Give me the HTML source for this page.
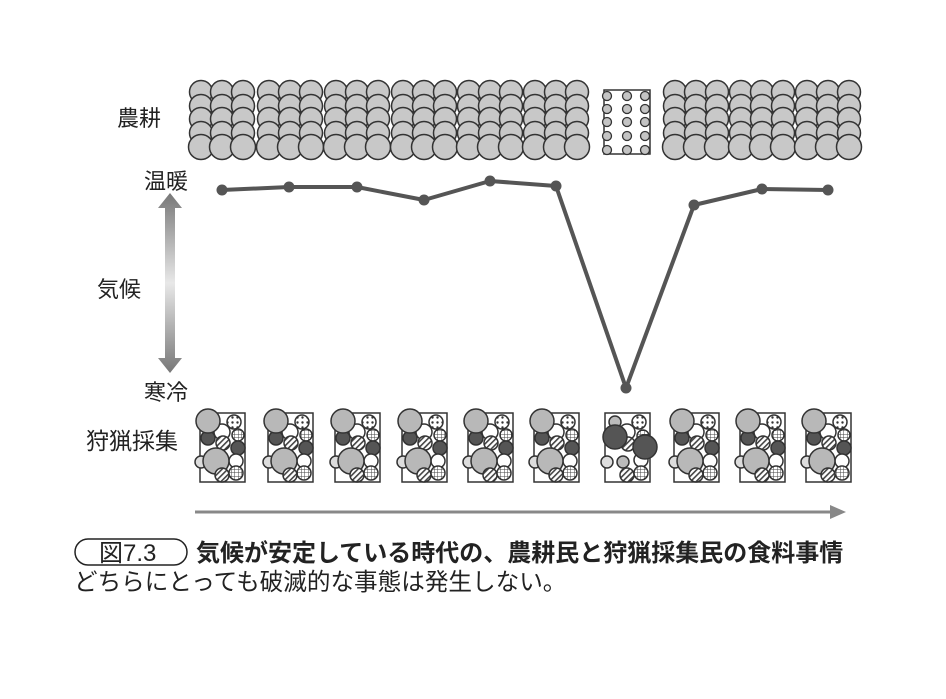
<!DOCTYPE html>
<html><head><meta charset="utf-8"><style>
html,body{margin:0;padding:0;background:#fff;}
svg{display:block}
text{font-family:"Liberation Sans","Noto Sans CJK JP",sans-serif;fill:#222}
</style></head><body>
<svg id="s" width="946" height="699" viewBox="0 0 946 699" xmlns="http://www.w3.org/2000/svg">
<defs>
<linearGradient id="vg" x1="0" y1="0" x2="0" y2="1">
<stop offset="0" stop-color="#777"/><stop offset="0.5" stop-color="#e8e8e8"/><stop offset="1" stop-color="#777"/>
</linearGradient>
<pattern id="hatch" width="4" height="4" patternUnits="userSpaceOnUse" patternTransform="rotate(45)">
<rect width="4" height="4" fill="#fff"/><rect width="1.6" height="4" fill="#444"/>
</pattern>
<pattern id="grid" width="3.5" height="3.5" patternUnits="userSpaceOnUse">
<rect width="3.5" height="3.5" fill="#fff"/><path d="M0 0H3.5M0 0V3.5" stroke="#444" stroke-width="1"/>
</pattern>
<pattern id="dots" width="5" height="5" patternUnits="userSpaceOnUse">
<rect width="5" height="5" fill="#fff"/><circle cx="2.5" cy="2.5" r="1.2" fill="#333"/>
</pattern>
</defs>
<g id="farm"></g>
<g id="hunt"></g>
<polyline points="222,190 289,187 357,187 424,200 490,181 556,186 626,388 694,205 762,189 828,190" fill="none" stroke="#555" stroke-width="4" stroke-linejoin="round"/>
<g fill="#555">
<circle cx="222" cy="190" r="5.5"/><circle cx="289" cy="187" r="5.5"/><circle cx="357" cy="187" r="5.5"/><circle cx="424" cy="200" r="5.5"/><circle cx="490" cy="181" r="5.5"/><circle cx="556" cy="186" r="5.5"/><circle cx="626" cy="388" r="5.5"/><circle cx="694" cy="205" r="5.5"/><circle cx="762" cy="189" r="5.5"/><circle cx="828" cy="190" r="5.5"/>
</g>
<path d="M170 193 L182 208 L175 208 L175 358 L182 358 L170 373 L158 358 L165 358 L165 208 L158 208 Z" fill="url(#vg)"/>
<text x="117" y="126" font-size="22">農耕</text>
<text x="144" y="189" font-size="22">温暖</text>
<text x="97" y="297" font-size="22">気候</text>
<text x="144" y="400" font-size="22">寒冷</text>
<text x="86" y="449" font-size="23">狩猟採集</text>
<line x1="195" y1="512" x2="832" y2="512" stroke="#888" stroke-width="3"/>
<path d="M830 505 L846 512 L830 519 Z" fill="#888"/>
<rect x="75" y="539" width="112" height="26" rx="13" fill="none" stroke="#222" stroke-width="1.5"/>
<text x="99" y="561" font-size="24">図7.3</text>
<text x="196" y="561" font-size="24" font-weight="bold">気候が安定している時代の、農耕民と狩猟採集民の食料事情</text>
<text x="74" y="590" font-size="23.6">どちらにとっても破滅的な事態は発生しない。</text>
</svg>
<script>
var NS="http://www.w3.org/2000/svg";
function c(g,x,y,r,f,sw){var e=document.createElementNS(NS,"circle");e.setAttribute("cx",x);e.setAttribute("cy",y);e.setAttribute("r",r);e.setAttribute("fill",f);e.setAttribute("stroke","#333");e.setAttribute("stroke-width",sw||1.5);g.appendChild(e);}
function r(g,x,y,w,h){var e=document.createElementNS(NS,"rect");e.setAttribute("x",x);e.setAttribute("y",y);e.setAttribute("width",w);e.setAttribute("height",h);e.setAttribute("fill","#fff");e.setAttribute("stroke","#333");e.setAttribute("stroke-width",1.5);g.appendChild(e);}
var F=document.getElementById("farm"),H=document.getElementById("hunt");
var cx=[222,290,357,424,490,556,627,696,762,828];
cx.forEach(function(x,i){
 if(i==6){
  r(F,604,90,46,64);
  [96,109,122,136,150].forEach(function(y){[607,627,645].forEach(function(xx){c(F,xx,y,4.5,"#c4c4c4",1.3);});});
 } else {
  [92,106,119,133].forEach(function(y){[-21,0,21].forEach(function(d){c(F,x+d,y,11.5,"#c8c8c8",1.5);});});
  [-21,0,21].forEach(function(d){c(F,x+d,147,12.5,"#c8c8c8",1.5);});
 }
 var L=x-22,T=413;
 r(H,L,T,45,69);
 if(i==6){
  c(H,L+22,T+19,8,"#fff");
  c(H,L+10,T+9,6,"#bbb");
  c(H,L+34,T+9,7,"url(#dots)");
  c(H,L+38,T+23,6,"url(#grid)");
  c(H,L+23,T+31,7,"url(#hatch)");
  c(H,L+36,T+47,7,"#fff");
  c(H,L+2,T+49,6,"#ddd");
  c(H,L+18,T+49,6,"#bbb");
  c(H,L+10,T+24,12,"#555");
  c(H,L+40,T+34,12,"#555");
  c(H,L+22,T+62,7,"url(#hatch)");
  c(H,L+36,T+60,7,"url(#grid)");
 } else {
  c(H,L+22,T+19,8,"#fff");
  c(H,L+8,T+25,7,"#555");
  c(H,L+8,T+8,12,"#b8b8b8");
  c(H,L+34,T+9,7,"url(#dots)");
  c(H,L+38,T+22,6,"url(#grid)");
  c(H,L+23,T+30,7,"url(#hatch)");
  c(H,L+38,T+35,7,"#555");
  c(H,L+36,T+48,7,"#fff");
  c(H,L+1,T+49,6,"#ddd");
  c(H,L+16,T+48,13,"#b8b8b8");
  c(H,L+22,T+62,7,"url(#hatch)");
  c(H,L+36,T+60,7,"url(#grid)");
 }
});
</script>
</body></html>
